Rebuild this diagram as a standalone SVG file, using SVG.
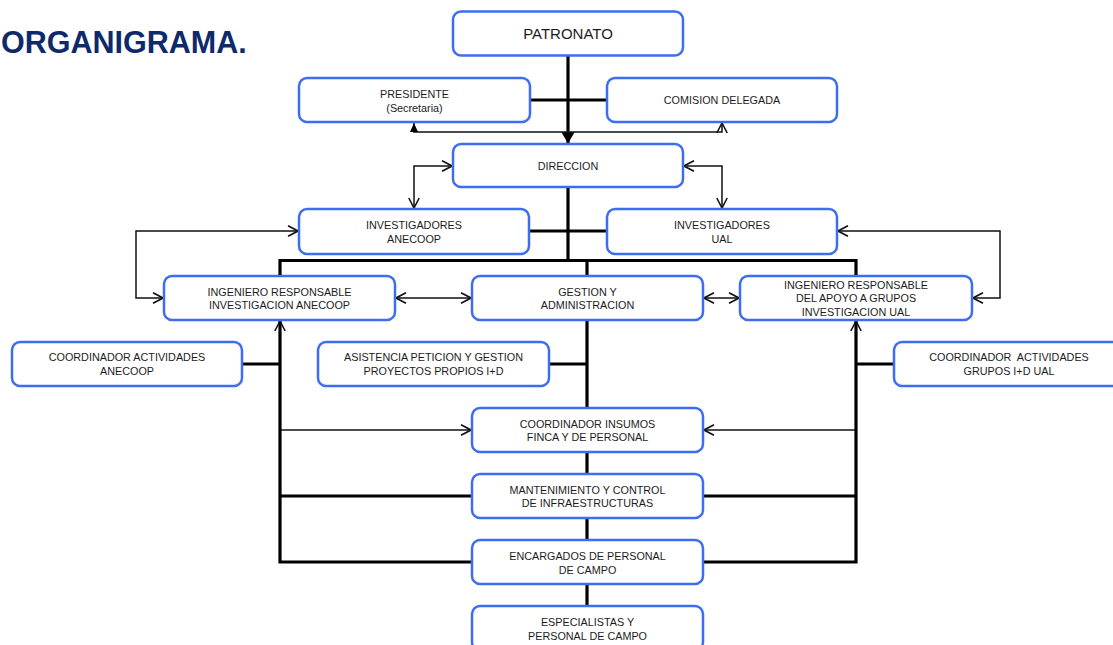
<svg xmlns="http://www.w3.org/2000/svg" width="1113" height="645" viewBox="0 0 1113 645">
<style>
.box{fill:#fff;stroke:#3d6ef2;stroke-width:2.5}
.t{font-family:"Liberation Sans",Arial,sans-serif;font-size:10.8px;fill:#1c1c1c;text-anchor:middle}
.big{font-size:15px}
.thick{fill:none;stroke:#000;stroke-width:3.2;stroke-linejoin:miter}
.thin{fill:none;stroke:#111;stroke-width:1.5}
.title{font-family:"Liberation Sans",Arial,sans-serif;font-size:30.5px;font-weight:bold;fill:#0f2a6b}
</style>
<defs>
<marker id="open" viewBox="0 0 12 12" refX="11" refY="6" markerWidth="12" markerHeight="12" markerUnits="userSpaceOnUse" orient="auto-start-reverse"><path d="M1,0.8 L11,6 L1,11.2" fill="none" stroke="#111" stroke-width="1.6"/></marker>
<marker id="tri" viewBox="0 0 12 14" refX="12" refY="7" markerWidth="12" markerHeight="14" markerUnits="userSpaceOnUse" orient="auto"><path d="M0,0 L12,7 L0,14 z" fill="#000"/></marker>
<marker id="trismall" viewBox="0 0 9 8" refX="9" refY="4" markerWidth="9" markerHeight="8" markerUnits="userSpaceOnUse" orient="auto-start-reverse"><path d="M0,0 L9,4 L0,8 z" fill="#000"/></marker>
</defs>
<text class="title" x="1" y="53">ORGANIGRAMA.</text>
<g id="connectors">
<path class="thick" d="M568,55.5 L568,143.5" marker-end="url(#tri)"/>
<path class="thick" d="M531,100 L607,100"/>
<path class="thick" d="M568,187 L568,260.5"/>
<path class="thick" d="M529,231 L607,231"/>
<path class="thick" d="M280,276 L280,260.5 L856,260.5 L856,276"/>
<path class="thick" d="M587,260.5 L587,276"/>
<path class="thick" d="M472,562 L280,562 L280,321" marker-end="url(#open)"/>
<path class="thick" d="M472,496 L280,496"/>
<path class="thick" d="M703,562 L856,562 L856,321" marker-end="url(#open)"/>
<path class="thick" d="M703,496 L856,496"/>
<path class="thick" d="M242,364 L280,364"/>
<path class="thick" d="M549,364 L587,364"/>
<path class="thick" d="M856,364 L894,364"/>
<path class="thick" d="M587,320 L587,408"/>
<path class="thick" d="M587,452 L587,474"/>
<path class="thick" d="M587,518 L587,540"/>
<path class="thick" d="M587,584 L587,606"/>
<path class="thin" d="M722,123 L722,132 L414,132 L414,123" marker-start="url(#open)" marker-end="url(#trismall)"/>
<path class="thin" d="M452,166 L414,166 L414,208" marker-start="url(#open)" marker-end="url(#open)"/>
<path class="thin" d="M684,166 L722,166 L722,208" marker-start="url(#open)" marker-end="url(#open)"/>
<path class="thin" d="M298,231 L136,231 L136,298 L163,298" marker-start="url(#open)" marker-end="url(#open)"/>
<path class="thin" d="M838,231 L1000,231 L1000,298 L973,298" marker-start="url(#open)" marker-end="url(#open)"/>
<path class="thin" d="M396,298 L471,298" marker-start="url(#open)" marker-end="url(#open)"/>
<path class="thin" d="M704,298 L739,298" marker-start="url(#open)" marker-end="url(#open)"/>
<path class="thin" d="M281,430 L471,430" marker-end="url(#open)"/>
<path class="thin" d="M855,430 L704,430" marker-end="url(#open)"/>
</g>
<g id="patronato"><rect class="box" x="453" y="11.5" width="230" height="44" rx="8"/><text class="t big" x="568" y="39">PATRONATO</text></g>
<g id="presidente"><rect class="box" x="299" y="78" width="231" height="44" rx="8"/><text class="t" x="414.5" y="97.5">PRESIDENTE</text><text class="t" x="414.5" y="111.5">(Secretaria)</text></g>
<g id="comision"><rect class="box" x="607" y="78" width="230" height="44" rx="8"/><text class="t" x="722" y="104">COMISION DELEGADA</text></g>
<g id="direccion"><rect class="box" x="453" y="144" width="230" height="43" rx="8"/><text class="t" x="568" y="170">DIRECCION</text></g>
<g id="inv_anecoop"><rect class="box" x="299" y="209" width="230" height="45" rx="8"/><text class="t" x="414" y="229">INVESTIGADORES</text><text class="t" x="414" y="242.5">ANECOOP</text></g>
<g id="inv_ual"><rect class="box" x="607" y="209" width="230" height="45" rx="8"/><text class="t" x="722" y="229">INVESTIGADORES</text><text class="t" x="722" y="242.5">UAL</text></g>
<g id="ing_anecoop"><rect class="box" x="164" y="276" width="231" height="44" rx="8"/><text class="t" x="279.5" y="296">INGENIERO RESPONSABLE</text><text class="t" x="279.5" y="309">INVESTIGACION ANECOOP</text></g>
<g id="gestion"><rect class="box" x="472" y="276" width="231" height="44" rx="8"/><text class="t" x="587.5" y="296">GESTION Y</text><text class="t" x="587.5" y="309">ADMINISTRACION</text></g>
<g id="ing_ual"><rect class="box" x="740" y="276" width="232" height="44" rx="8"/><text class="t" x="856" y="288.5">INGENIERO RESPONSABLE</text><text class="t" x="856" y="302">DEL APOYO A GRUPOS</text><text class="t" x="856" y="315.5">INVESTIGACION UAL</text></g>
<g id="coord_anecoop"><rect class="box" x="12" y="342" width="230" height="44" rx="8"/><text class="t" x="127" y="361">COORDINADOR ACTIVIDADES</text><text class="t" x="127" y="375">ANECOOP</text></g>
<g id="asistencia"><rect class="box" x="318" y="342" width="231" height="44" rx="8"/><text class="t" x="433.5" y="361">ASISTENCIA PETICION Y GESTION</text><text class="t" x="433.5" y="375">PROYECTOS PROPIOS I+D</text></g>
<g id="coord_ual"><rect class="box" x="894" y="342" width="230" height="44" rx="8"/><text class="t" x="1009" y="361" style="white-space:pre">COORDINADOR  ACTIVIDADES</text><text class="t" x="1009" y="375">GRUPOS I+D UAL</text></g>
<g id="insumos"><rect class="box" x="472" y="408" width="231" height="44" rx="8"/><text class="t" x="587.5" y="427.5">COORDINADOR INSUMOS</text><text class="t" x="587.5" y="441">FINCA Y DE PERSONAL</text></g>
<g id="mantenimiento"><rect class="box" x="472" y="474" width="231" height="44" rx="8"/><text class="t" x="587.5" y="493.5">MANTENIMIENTO Y CONTROL</text><text class="t" x="587.5" y="507">DE INFRAESTRUCTURAS</text></g>
<g id="encargados"><rect class="box" x="472" y="540" width="231" height="44" rx="8"/><text class="t" x="587.5" y="560">ENCARGADOS DE PERSONAL</text><text class="t" x="587.5" y="573.5">DE CAMPO</text></g>
<g id="especialistas"><rect class="box" x="472" y="606" width="231" height="44" rx="8"/><text class="t" x="587.5" y="626">ESPECIALISTAS Y</text><text class="t" x="587.5" y="639.5">PERSONAL DE CAMPO</text></g>
</svg>
